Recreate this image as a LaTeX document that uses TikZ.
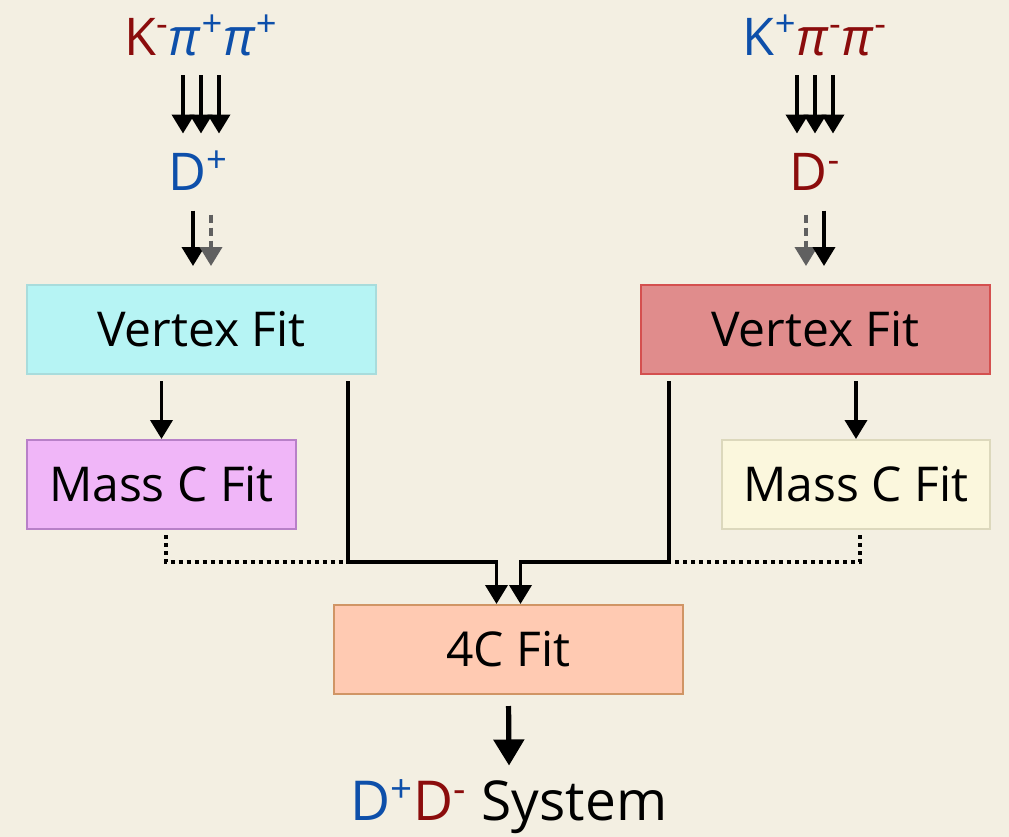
\documentclass[tikz,border=0pt]{standalone}
\usepackage{fontspec}
\setmainfont{Open Sans}
\usetikzlibrary{arrows.meta}
\definecolor{bgcream}{HTML}{F3EFE2}
\definecolor{pblue}{HTML}{0D4FAA}
\definecolor{pred}{HTML}{8B0C0C}
\definecolor{cyanfill}{HTML}{B6F4F4}
\definecolor{cyanline}{HTML}{A8DCDC}
\definecolor{redfill}{HTML}{E08C8C}
\definecolor{redline}{HTML}{D4504F}
\definecolor{magfill}{HTML}{F0B6F8}
\definecolor{magline}{HTML}{B880C8}
\definecolor{creamfill}{HTML}{FBF7DD}
\definecolor{creamline}{HTML}{DCD8BC}
\definecolor{salfill}{HTML}{FFCAB2}
\definecolor{salline}{HTML}{D09565}
\newcommand{\up}[1]{\textsuperscript{#1}}
\begin{document}
\begin{tikzpicture}[x=0.5pt, y=-0.5pt,
    lbl/.style={inner sep=0pt, outer sep=10pt, text height=18.5pt, text depth=0pt, font=\fontsize{26}{30}\selectfont},
    fitbox/.style={draw, line width=1pt, minimum width=174.5pt, minimum height=44.5pt, inner sep=0pt, font=\fontsize{24}{30}\selectfont},
    arr/.style={line width=1.9pt, -{Triangle[width=11pt, length=9.5pt]}},
    garr/.style={arr, gray!75!black, dash pattern=on 4pt off 2.5pt},
    dots/.style={line width=2pt, dash pattern=on 2pt off 2pt}]
    \fill[bgcream] (0,0) rectangle (1009,837);

    % decay chains
    \node[lbl] (kl) at (201,36.5) {\textcolor{pred}{K\up{-}}\textcolor{pblue}{\textit{π}\up{+}\textit{π}\up{+}}};
    \node[lbl] (dp) at (198,172) {\textcolor{pblue}{D\up{+}}};
    \node[lbl] (kr) at (815,36.5) {\textcolor{pblue}{K\up{+}}\textcolor{pred}{\textit{π}\up{-}\textit{π}\up{-}}};
    \node[lbl] (dm) at (815,172) {\textcolor{pred}{D\up{-}}};

    \node[fitbox, fill=cyanfill, draw=cyanline] (vl) at (201.5,329.5) {Vertex Fit};
    \node[fitbox, fill=redfill, draw=redline] (vr) at (815.5,329.5) {Vertex Fit};
    \node[fitbox, fill=magfill, draw=magline, minimum width=134.5pt] (ml) at (161.5,484.5) {Mass C Fit};
    \node[fitbox, fill=creamfill, draw=creamline, minimum width=134pt] (mr) at (856,484.5) {Mass C Fit};
    \node[fitbox, fill=salfill, draw=salline] (fc) at (508.5,649.5) {4C Fit};
    \node[lbl, text height=19.5pt, font=\fontsize{27.5}{32}\selectfont] (sys) at (509,801) {\textcolor{pblue}{D\up{+}}\textcolor{pred}{D\up{-}} System};

    \foreach \s in {-9pt,0pt,9pt} {
        \draw[arr] ([xshift=\s]kl.south) -- ([xshift=\s]kl.south |- dp.north);
        \draw[arr] ([xshift=\s]kr.south) -- ([xshift=\s]kr.south |- dm.north);
    }
    \draw[arr, shorten >=9pt] ([xshift=-2.5pt]dp.south) -- ([xshift=-2.5pt]dp.south |- vl.north);
    \draw[garr, shorten >=9pt] ([xshift=6.5pt,yshift=-2pt]dp.south) -- ([xshift=6.5pt]dp.south |- vl.north);
    \draw[garr, shorten >=9pt] ([xshift=-4.5pt,yshift=-2pt]dm.south) -- ([xshift=-4.5pt]dm.south |- vr.north);
    \draw[arr, shorten >=9pt] ([xshift=4.5pt]dm.south) -- ([xshift=4.5pt]dm.south |- vr.north);

    \draw[arr, shorten <=3pt] (ml.north |- vl.south) -- (ml.north);
    \draw[arr, shorten <=3pt] (mr.north |- vr.south) -- (mr.north);

    % into the 4C fit
    \draw[arr, shorten <=3pt] ([xshift=-14.5pt]vl.south east) -- ++(0,187) coordinate (jl) -| ([xshift=-6pt]fc.north);
    \draw[arr, shorten <=3pt] ([xshift=14.5pt]vr.south west) -- ++(0,187) coordinate (jr) -| ([xshift=6pt]fc.north);
    \draw[dots, shorten <=2.5pt] ([xshift=2pt]ml.south) |- (jl);
    \draw[dots, shorten <=2.5pt] ([xshift=2pt]mr.south) |- (jr);

    \draw[line width=2.6pt, -{Triangle[width=15pt, length=13pt]}, shorten <=5.5pt, shorten >=-2pt] (fc.south) -- (sys.north);
\end{tikzpicture}
\end{document}
